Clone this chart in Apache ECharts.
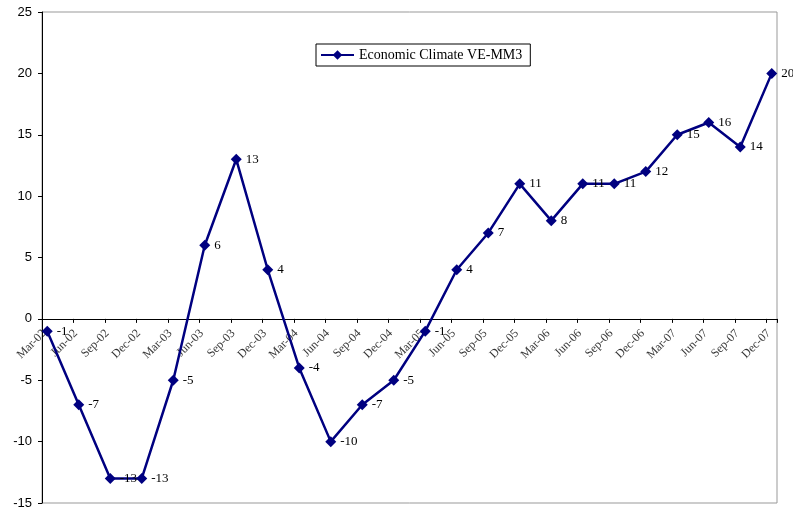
<!DOCTYPE html>
<html>
<head>
<meta charset="utf-8">
<script src="https://cdn.jsdelivr.net/npm/echarts@6/dist/echarts.min.js"></script>
<style>html,body{margin:0;padding:0;background:#fff}#c{width:793px;height:510px}</style>
</head>
<body>
<div id="c"></div>
<script>
const categories = ['Mar-02','Jun-02','Sep-02','Dec-02','Mar-03','Jun-03','Sep-03','Dec-03','Mar-04','Jun-04','Sep-04','Dec-04','Mar-05','Jun-05','Sep-05','Dec-05','Mar-06','Jun-06','Sep-06','Dec-06','Mar-07','Jun-07','Sep-07','Dec-07'];
const values = [-1,-7,-13,-13,-5,6,13,4,-4,-10,-7,-5,-1,4,7,11,8,11,11,12,15,16,14,20];
const seriesName = 'Economic Climate VE-MM3';
const yTicks = [-15,-10,-5,0,5,10,15,20,25];

// monthly date axis: each quarter = 3 months, points at the middle of their month slot
const MONTHS_PER_STEP = 3;
const totalMonths = (categories.length - 1) * MONTHS_PER_STEP + 1;
const data = values.map((v, i) => [i * MONTHS_PER_STEP + 0.5, v]);
// category labels sit at the quarter tick marks on the zero line
const tickLabelData = categories.map((c, i) => ({value: [i * MONTHS_PER_STEP, 0], name: c}));

const chart = echarts.init(document.getElementById('c'), null, {renderer: 'canvas'});
chart.setOption({
  animation: false,
  backgroundColor: '#fff',
  grid: {left: 42, right: 16, top: 12, bottom: 7, show: true, borderColor: '#999', borderWidth: 1, backgroundColor: 'transparent', outerBoundsMode: 'none', containLabel: false},
  legend: {
    show: true, left: 316, top: 44,
    data: [seriesName],
    borderColor: '#000', borderWidth: 1, borderRadius: 0,
    padding: [4, 8, 4, 4],
    itemWidth: 33, itemHeight: 12, itemGap: 4,
    textStyle: {fontFamily: 'Liberation Serif', fontSize: 14, color: '#000'}
  },
  xAxis: {
    type: 'value', min: 0, max: totalMonths, interval: MONTHS_PER_STEP,
    splitLine: {show: false},
    axisLine: {onZero: true, lineStyle: {color: '#000', width: 1}},
    axisTick: {show: true, length: 4, lineStyle: {color: '#000'}},
    axisLabel: {show: false}
  },
  yAxis: {
    type: 'value', min: yTicks[0], max: yTicks[yTicks.length - 1], interval: 5,
    splitLine: {show: false},
    axisLine: {show: true, onZero: false, lineStyle: {color: '#000', width: 1}},
    axisTick: {show: true, length: 4, lineStyle: {color: '#000'}},
    axisLabel: {fontFamily: 'Liberation Sans', fontSize: 13, color: '#000', margin: 10}
  },
  series: [{
    name: seriesName, type: 'line', data: data, z: 3,
    symbol: 'diamond', symbolSize: 11,
    lineStyle: {color: '#000080', width: 2.5},
    itemStyle: {color: '#000080'},
    label: {show: true, position: 'right', distance: 4, fontFamily: 'Liberation Serif', fontSize: 13, color: '#000',
      formatter: function (p) { return p.value[1]; }}
  }, {
    name: 'axisLabels', type: 'scatter', data: tickLabelData, z: 1,
    symbolSize: 0, silent: true, legendHoverLink: false,
    label: {show: true, position: 'inside', offset: [-7.4, 10.6], rotate: 45, align: 'right', verticalAlign: 'middle',
      fontFamily: 'Liberation Serif', fontSize: 12, color: '#000',
      formatter: function (p) { return p.name; }}
  }]
});
</script>
</body>
</html>
